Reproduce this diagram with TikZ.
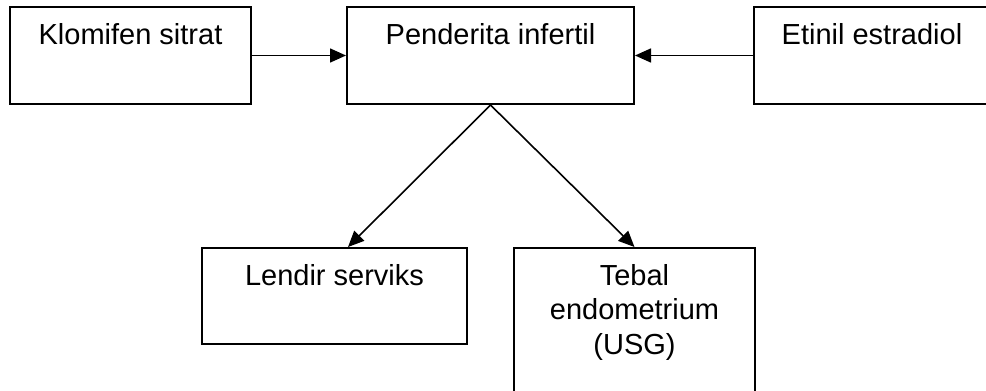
\documentclass[tikz,border=0pt]{standalone}
\usepackage{fontspec}
\setmainfont{Liberation Sans}
\usetikzlibrary{positioning,arrows.meta}

\tikzset{
    kotak/.style={draw,line width=2pt,minimum height=97pt,inner sep=0pt},
    teks/.style={anchor=base,align=center,inner sep=0pt,font=\fontsize{29}{34.5}\selectfont},
    panah/.style={line width=1.6pt,-{Triangle[length=16pt,width=14pt]}}
}

\begin{document}
\begin{tikzpicture}[x=1pt,y=-1pt]
    \useasboundingbox (0,0) rectangle (986,391);

    % Kotak baris atas
    \node[kotak,minimum width=241pt] (klomifen) at (130.5,55.5) {};
    \node[kotak,minimum width=287pt] (pasien) at (490.5,55.5) {};
    \node[kotak,minimum width=240pt] (etinil) at (874,55.5) {};

    % Kotak baris bawah
    \node[kotak,minimum width=265pt,minimum height=96pt] (lendir) at (334.5,296) {};
    \node[kotak,minimum width=241pt,minimum height=160pt] (tebal) at (634.5,328) {};

    % Tulisan
    \node[teks] (klomifenT) at ([yshift=-38.5pt]klomifen.north) {Klomifen sitrat};
    \node[teks] (pasienT) at ([yshift=-38.5pt]pasien.north) {Penderita infertil};
    \node[teks] (etinilT) at ([yshift=-38.5pt,xshift=-2pt]etinil.north) {Etinil estradiol};
    \node[teks] (lendirT) at ([yshift=-38.5pt]lendir.north) {Lendir serviks};
    \node[teks,anchor=north] (tebalT) at ([yshift=-17pt]tebal.north) {Tebal\\endometrium\\(USG)};

    % Panah
    \draw[panah] (klomifen) -- (pasien);
    \draw[panah] (etinil) -- (pasien);
    \draw[panah] (pasien.south) -- ([xshift=13.5pt]lendir.north);
    \draw[panah] (pasien.south) -- (tebal.north);

\end{tikzpicture}
\end{document}
